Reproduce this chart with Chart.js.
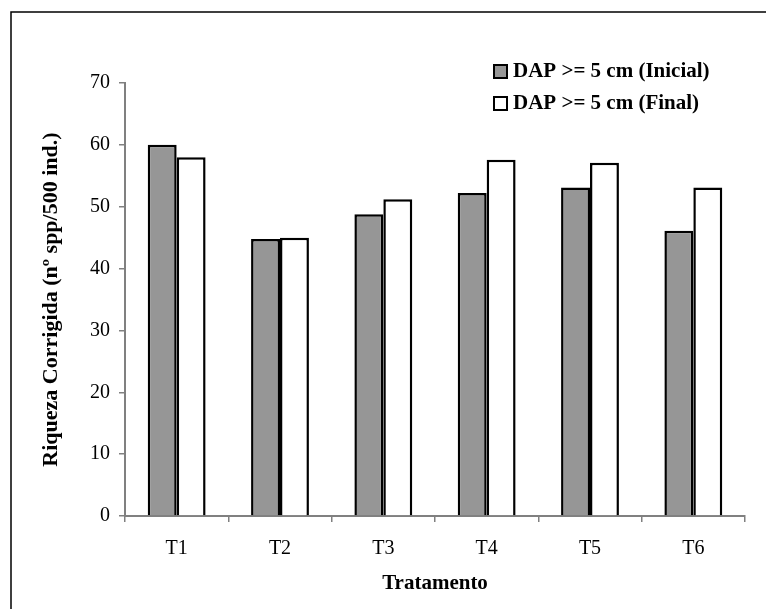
<!DOCTYPE html>
<html>
<head>
<meta charset="utf-8">
<script src="https://cdn.jsdelivr.net/npm/chart.js@4"></script>
<style>
  html, body { margin: 0; padding: 0; background: #fff; }
  #wrap { width: 766px; height: 609px; position: relative; }
</style>
</head>
<body>
<div id="wrap"><canvas id="chart" width="766" height="609"></canvas></div>
<script>
// Data
const categories = ['T1', 'T2', 'T3', 'T4', 'T5', 'T6'];
const inicial = [60.0, 44.8, 48.8, 52.2, 53.1, 46.1];
const final = [58.0, 45.0, 51.2, 57.6, 57.1, 53.1];
const seriesLabels = ['DAP >= 5 cm (Inicial)', 'DAP >= 5 cm (Final)'];
const yTicks = [0, 10, 20, 30, 40, 50, 60, 70];

const SERIF = '"Liberation Serif", "Times New Roman", serif';
const AXIS_GRAY = '#808080';

// Frame + white background
const framePlugin = {
    id: 'frame',
    beforeDraw(chart) {
        const ctx = chart.ctx;
        ctx.save();
        ctx.fillStyle = '#fff';
        ctx.fillRect(0, 0, chart.width, chart.height);
        ctx.strokeStyle = '#000';
        ctx.lineWidth = 1.5;
        ctx.beginPath();
        ctx.moveTo(11, chart.height + 5);
        ctx.lineTo(11, 12);
        ctx.lineTo(chart.width + 5, 12);
        ctx.stroke();
        ctx.restore();
    }
};

// Legend drawn in the upper right of the plot
const legendPlugin = {
    id: 'boxLegend',
    afterDraw(chart) {
        const ctx = chart.ctx;
        ctx.save();
        ctx.font = 'bold 21px ' + SERIF;
        ctx.textBaseline = 'middle';
        chart.data.datasets.forEach((ds, i) => {
            const cy = 71 + i * 32;
            ctx.fillStyle = ds.backgroundColor;
            ctx.fillRect(494, cy - 6, 13, 13);
            ctx.strokeStyle = '#000';
            ctx.lineWidth = 2;
            ctx.strokeRect(494, cy - 6, 13, 13);
            ctx.fillStyle = '#000';
            ctx.fillText(ds.label, 513, cy + 1);
        });
        ctx.restore();
    }
};

new Chart(document.getElementById('chart'), {
    type: 'bar',
    data: {
        labels: categories,
        datasets: [
            {
                label: seriesLabels[0],
                data: inicial,
                backgroundColor: '#969696',
                borderColor: '#000',
                borderWidth: 2.5
            },
            {
                label: seriesLabels[1],
                data: final,
                backgroundColor: '#ffffff',
                borderColor: '#000',
                borderWidth: 2.5
            }
        ]
    },
    options: {
        responsive: false,
        animation: false,
        categoryPercentage: 0.56,
        barPercentage: 1.0,
        layout: { padding: { top: 83, right: 21, left: 0, bottom: 0 } },
        plugins: {
            legend: { display: false },
            tooltip: { enabled: false }
        },
        scales: {
            x: {
                grid: {
                    offset: true,
                    drawOnChartArea: false,
                    drawTicks: true,
                    tickLength: 6,
                    color: AXIS_GRAY,
                    lineWidth: 1.5
                },
                border: { color: AXIS_GRAY, width: 2 },
                ticks: {
                    color: '#000',
                    padding: 15,
                    font: { family: SERIF, size: 20 }
                },
                title: {
                    display: true,
                    text: 'Tratamento',
                    color: '#000',
                    padding: { top: 0, bottom: 13 },
                    font: { family: SERIF, size: 21, weight: 'bold' }
                },
                afterFit(scale) { scale.height = 93; }
            },
            y: {
                min: 0,
                max: 70,
                afterBuildTicks(scale) {
                    scale.ticks = yTicks.map(v => ({ value: v }));
                },
                grid: {
                    drawOnChartArea: false,
                    drawTicks: true,
                    tickLength: 6,
                    color: AXIS_GRAY,
                    lineWidth: 1.5
                },
                border: { color: AXIS_GRAY, width: 2 },
                ticks: {
                    color: '#000',
                    padding: 9,
                    font: { family: SERIF, size: 20 }
                },
                title: {
                    display: true,
                    text: 'Riqueza Corrigida (nº spp/500 ind.)',
                    color: '#000',
                    padding: { top: 38, bottom: 0 },
                    font: { family: SERIF, size: 22, weight: 'bold' }
                },
                afterFit(scale) { scale.width = 125; }
            }
        }
    },
    plugins: [framePlugin, legendPlugin]
});
</script>
</body>
</html>
